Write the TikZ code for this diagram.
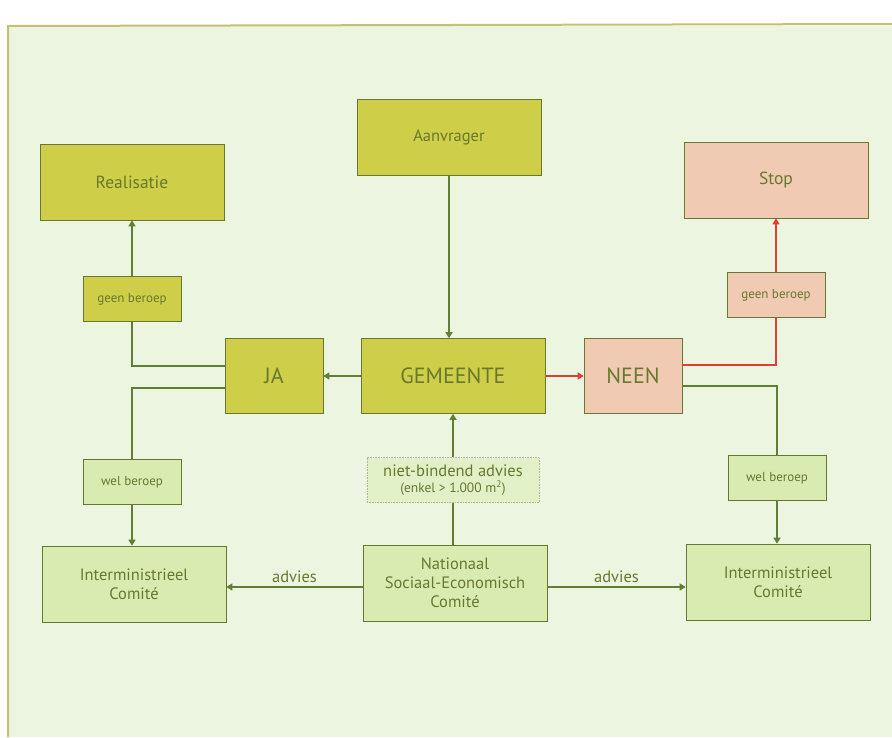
\documentclass[tikz,border=0pt]{standalone}
\usepackage{fontspec}
\setmainfont{PT Sans}
\usetikzlibrary{arrows.meta}
\definecolor{achter}{RGB}{236,245,224}
\definecolor{kader}{RGB}{200,192,112}
\definecolor{geel}{RGB}{206,206,72}
\definecolor{zalm}{RGB}{240,202,178}
\definecolor{lgroen}{RGB}{216,236,178}
\definecolor{tekst}{RGB}{104,120,46}
\definecolor{lijn}{RGB}{96,126,52}
\definecolor{rood}{RGB}{226,62,52}
\begin{document}
\begin{tikzpicture}[x=1pt,y=-1pt,>={Triangle[length=6pt,width=7pt]},
    box/.style={draw=tekst,line width=0.6pt,fill=geel,minimum width=184pt,minimum height=76pt,
      text=tekst,align=center,inner sep=2pt,font=\fontsize{16.5}{19}\selectfont},
    klein/.style={box,minimum width=98pt,minimum height=45pt},
    pijl/.style={draw=lijn,line width=1.3pt}]
  \useasboundingbox (0,0) rectangle (892,737);
  \fill[white] (0,0) rectangle (892,737);
  \fill[achter] (8,26) rectangle (892,737);
  \draw[kader,line width=2pt] (8,737) -- (8,26) -- (892,24);
  % bovenste rij
  \node[box] (aanvrager) at (449,137) {Aanvrager};
  \node[box,font=\fontsize{17.5}{20}\selectfont] (realisatie) at (132,182) {Realisatie};
  \node[box,fill=zalm,font=\fontsize{17.5}{20}\selectfont] (stop) at (776,180) {Stop};
  \node[klein,font=\fontsize{13}{15}\selectfont] (geenL) at (132,299) {geen beroep};
  \node[klein,fill=zalm,font=\fontsize{13}{15}\selectfont] (geenR) at (776,295) {geen beroep};
  % middelste rij
  \node[klein,minimum height=75pt,font=\fontsize{22}{25}\selectfont] (ja) at (274,376) {JA};
  \node[box,minimum height=75pt,font=\fontsize{22}{25}\selectfont] (gemeente) at (453,376) {GEMEENTE};
  \node[klein,fill=zalm,minimum height=75pt,font=\fontsize{22}{25}\selectfont] (neen) at (633,376) {NEEN};
  \node[box,fill=lgroen!55!achter,draw=tekst!50,densely dotted,minimum width=172pt,minimum height=45pt]
    (advies) at (453,480) {niet-bindend advies\\[-3pt]{\fontsize{13.5}{15}\selectfont(enkel > 1.000 m\textsuperscript{2})}};
  \node[klein,fill=lgroen,font=\fontsize{13}{15}\selectfont] (welL) at (132,482) {wel beroep};
  \node[klein,fill=lgroen,font=\fontsize{13}{15}\selectfont] (welR) at (777,478) {wel beroep};
  % onderste rij
  \node[box,fill=lgroen] (interL) at (134,584) {Interministrieel\\Comité};
  \node[box,fill=lgroen] (nsec) at (455,583) {Nationaal\\Sociaal-Economisch\\Comité};
  \node[box,fill=lgroen] (interR) at (778,582) {Interministrieel\\Comité};
  % verbindingen
  \draw[pijl,->] (aanvrager) -- (aanvrager|-gemeente.north);
  \draw[pijl,->] (gemeente) -- (ja);
  \draw[pijl,draw=rood,->] (gemeente) -- (neen);
  \draw[pijl] (nsec.north-|advies) -- (advies);
  \draw[pijl,->] (advies) -- (advies|-gemeente.south);
  \draw[pijl] ([yshift=10pt]ja.west) -| (geenL);
  \draw[pijl,->] (geenL) -- (realisatie);
  \draw[pijl] ([yshift=-12pt]ja.west) -| (welL);
  \draw[pijl,->] (welL) -- (welL|-interL.north);
  \draw[pijl,draw=rood] ([yshift=11pt]neen.east) -| (geenR);
  \draw[pijl,draw=rood,->] (geenR) -- (stop);
  \draw[pijl] ([yshift=-10pt]neen.east) -| (welR);
  \draw[pijl,->] (welR) -- (welR|-interR.north);
  \draw[pijl,->] ([yshift=-4pt]nsec.west) -- node[above,text=tekst,font=\fontsize{16.5}{19}\selectfont]{advies} ([yshift=-3pt]interL.east);
  \draw[pijl,->] ([yshift=-4pt]nsec.east) -- node[above,text=tekst,font=\fontsize{16.5}{19}\selectfont]{advies} ([yshift=-5pt]interR.west);
\end{tikzpicture}
\end{document}
